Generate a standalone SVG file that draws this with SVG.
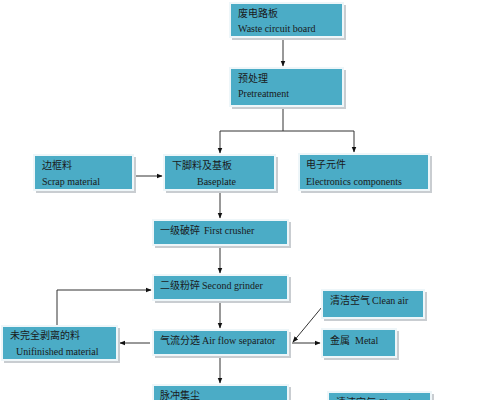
<svg xmlns="http://www.w3.org/2000/svg" width="499" height="400" viewBox="0 0 499 400">
<defs>
<style>
.box{fill:#4bacc6;stroke:#eef6f9;stroke-width:2}
.sh{fill:#c9cdd1}
.t{font-family:"Liberation Serif","Noto Sans CJK SC",serif;font-size:10px;fill:#1a1a1a}
.c{font-family:"Noto Sans CJK SC",sans-serif;font-size:10px;fill:#1a1a1a}
.ln{fill:none;stroke:#333;stroke-width:1}
</style>
<marker id="ah" viewBox="0 0 10 10" refX="9" refY="5" markerWidth="6" markerHeight="6" orient="auto">
<path d="M0,1 L10,5 L0,9 z" fill="#111"/>
</marker>
</defs>
<rect width="499" height="400" fill="#fff"/>
<g id="connectors">
<line class="ln" x1="283" y1="39" x2="283" y2="66" marker-end="url(#ah)"/>
<polyline class="ln" points="283,108 283,131 220,131 220,153" marker-end="url(#ah)"/>
<polyline class="ln" points="283,131 354,131 354,152" marker-end="url(#ah)"/>
<line class="ln" x1="135" y1="176" x2="162" y2="176" marker-end="url(#ah)"/>
<line class="ln" x1="220" y1="192" x2="220" y2="218" marker-end="url(#ah)"/>
<line class="ln" x1="220" y1="247" x2="220" y2="273" marker-end="url(#ah)"/>
<line class="ln" x1="220" y1="302" x2="220" y2="328" marker-end="url(#ah)"/>
<line class="ln" x1="220" y1="357" x2="220" y2="383" marker-end="url(#ah)"/>
<line class="ln" x1="150" y1="343" x2="120" y2="343" marker-end="url(#ah)"/>
<polyline class="ln" points="57,326 57,290 151,290" marker-end="url(#ah)"/>
<line class="ln" x1="322" y1="307" x2="293" y2="342" marker-end="url(#ah)"/>
<line class="ln" x1="292" y1="343" x2="320" y2="343" marker-end="url(#ah)"/>
</g>
<g id="n1">
<rect class="sh" x="232" y="5" width="114" height="35"/>
<rect class="box" x="230" y="3" width="113" height="34"/>
<text class="c" x="238" y="17">废电路板</text>
<text class="t" x="238" y="32">Waste circuit board</text>
</g>
<g id="n2">
<rect class="sh" x="232" y="70" width="114" height="39"/>
<rect class="box" x="230" y="68" width="113" height="38"/>
<text class="c" x="238" y="82">预处理</text>
<text class="t" x="238" y="97">Pretreatment</text>
</g>
<g id="n3">
<rect class="sh" x="36" y="157" width="100" height="36"/>
<rect class="box" x="34" y="155" width="99" height="35"/>
<text class="c" x="42" y="169">边框料</text>
<text class="t" x="42" y="185">Scrap material</text>
</g>
<g id="n4">
<rect class="sh" x="166" y="157" width="112" height="36"/>
<rect class="box" x="164" y="155" width="111" height="35"/>
<text class="c" x="172" y="169">下脚料及基板</text>
<text class="t" x="197" y="185">Baseplate</text>
</g>
<g id="n5">
<rect class="sh" x="301" y="156" width="131" height="37"/>
<rect class="box" x="299" y="154" width="130" height="36"/>
<text class="c" x="306" y="168">电子元件</text>
<text class="t" x="306" y="185">Electronics components</text>
</g>
<g id="n6">
<rect class="sh" x="155" y="222" width="136" height="26"/>
<rect class="box" x="153" y="220" width="135" height="25"/>
<text class="c" x="160" y="234">一级破碎</text>
<text class="t" x="204" y="234">First crusher</text>
</g>
<g id="n7">
<rect class="sh" x="155" y="277" width="136" height="26"/>
<rect class="box" x="153" y="275" width="135" height="25"/>
<text class="c" x="160" y="289">二级粉碎</text>
<text class="t" x="202" y="289">Second grinder</text>
</g>
<g id="n8">
<rect class="sh" x="155" y="332" width="136" height="26"/>
<rect class="box" x="153" y="330" width="135" height="25"/>
<text class="c" x="160" y="344">气流分选</text>
<text class="t" x="202" y="344">Air flow separator</text>
</g>
<g id="n9">
<rect class="sh" x="155" y="387" width="136" height="26"/>
<rect class="box" x="153" y="385" width="135" height="25"/>
<text class="c" x="160" y="399">脉冲集尘</text>
</g>
<g id="n10">
<rect class="sh" x="4" y="328" width="116" height="35"/>
<rect class="box" x="2" y="326" width="115" height="34"/>
<text class="c" x="10" y="339">未完全剥离的料</text>
<text class="t" x="16" y="355">Unifinished material</text>
</g>
<g id="n11">
<rect class="sh" x="324" y="292" width="103" height="29"/>
<rect class="box" x="322" y="290" width="102" height="28"/>
<text class="c" x="330" y="304">清洁空气</text>
<text class="t" x="372" y="304">Clean air</text>
</g>
<g id="n12">
<rect class="sh" x="324" y="331" width="75" height="29"/>
<rect class="box" x="322" y="329" width="74" height="28"/>
<text class="c" x="330" y="344">金属</text>
<text class="t" x="355" y="344">Metal</text>
</g>
<g id="n13">
<rect class="sh" x="330" y="394" width="104" height="20"/>
<rect class="box" x="328" y="392" width="103" height="20"/>
<text class="c" x="336" y="406">清洁空气</text>
<text class="t" x="378" y="406">Clean air</text>
</g>
</svg>
